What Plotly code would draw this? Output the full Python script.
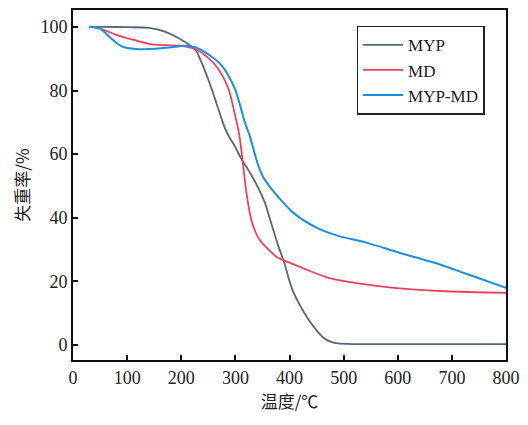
import plotly.graph_objects as go

myp_x = [30, 60, 100, 141, 171, 201, 226, 237, 256, 268, 281, 290, 299, 311, 323, 342, 354, 365, 378, 390, 405, 420, 435, 453, 465, 477, 490, 520, 600, 700, 800]
myp_y = [100, 100, 99.9, 99.7, 98.4, 95.9, 92.8, 89, 80.6, 74.4, 68, 65, 62.5, 58.5, 55.3, 49.5, 45, 39, 31.8, 26, 17.5, 12.3, 8, 4, 2, 1, 0.5, 0.3, 0.3, 0.3, 0.3]

md_x = [30, 49, 80, 110, 146, 201, 232, 263, 287, 299, 305, 309, 314, 320, 329, 336, 345, 360, 378, 390, 427, 469, 530, 603, 689, 800]
md_y = [100, 99.5, 97.5, 96, 94.5, 94, 92.5, 88, 80.6, 72.5, 68, 64, 57, 48.4, 39.6, 36, 33, 30.2, 27.5, 26.6, 24, 21.3, 19.3, 17.8, 16.9, 16.4]

mypmd_x = [30, 49, 73, 91, 122, 171, 214, 237, 274, 299, 317, 327, 338, 345, 352, 360, 378, 409, 451, 490, 542, 603, 665, 725, 800]
mypmd_y = [100, 99.5, 96, 93.8, 93, 93.4, 94, 92.8, 88, 80.6, 70.3, 65.5, 58.8, 55.2, 52.6, 50.6, 46.8, 41.3, 36.8, 34.3, 32.2, 29, 26, 22.5, 18]

x_ticks = [0, 100, 200, 300, 400, 500, 600, 700, 800]
y_ticks = [0, 20, 40, 60, 80, 100]

serif = "Liberation Serif, Times New Roman, serif"
cjk = "Noto Sans CJK SC"

fig = go.Figure()
fig.add_trace(go.Scatter(x=myp_x, y=myp_y, mode="lines", name="MYP",
                         line=dict(color="#5b6673", width=1.8, shape="spline", smoothing=0.8)))
fig.add_trace(go.Scatter(x=md_x, y=md_y, mode="lines", name="MD",
                         line=dict(color="#f2405c", width=1.8, shape="spline", smoothing=0.8)))
fig.add_trace(go.Scatter(x=mypmd_x, y=mypmd_y, mode="lines", name="MYP-MD",
                         line=dict(color="#1c8fe0", width=2, shape="spline", smoothing=0.8)))

fig.update_layout(
    width=528, height=425,
    margin=dict(l=73, r=17, t=8, b=65),
    paper_bgcolor="white", plot_bgcolor="white",
    showlegend=True,
    legend=dict(x=0.655, y=0.955, xanchor="left", yanchor="top",
                bordercolor="#222", borderwidth=1.5, bgcolor="white",
                font=dict(family=serif, size=17, color="#222"),
                tracegroupgap=0, itemwidth=40),
    font=dict(family=serif, size=18, color="#222"),
)
fig.update_xaxes(range=[0, 800], tickvals=x_ticks, ticks="inside", ticklen=5, tickwidth=2,
                 tickcolor="#111", showline=True, linecolor="#111", linewidth=2, mirror=True,
                 showgrid=False, zeroline=False,
                 tickfont=dict(family=serif, size=18, color="#222"),
                 title=dict(text="温度/℃", font=dict(family=cjk, size=17, color="#222"), standoff=8))
fig.update_yaxes(range=[-4.7, 105.3], tickvals=y_ticks, ticks="inside", ticklen=5, tickwidth=2,
                 tickcolor="#111", showline=True, linecolor="#111", linewidth=2, mirror=True,
                 showgrid=False, zeroline=False,
                 tickfont=dict(family=serif, size=18, color="#222"),
                 title=dict(text="失重率/%", font=dict(family=cjk, size=17, color="#222"), standoff=6))

fig.write_html("out.html")
